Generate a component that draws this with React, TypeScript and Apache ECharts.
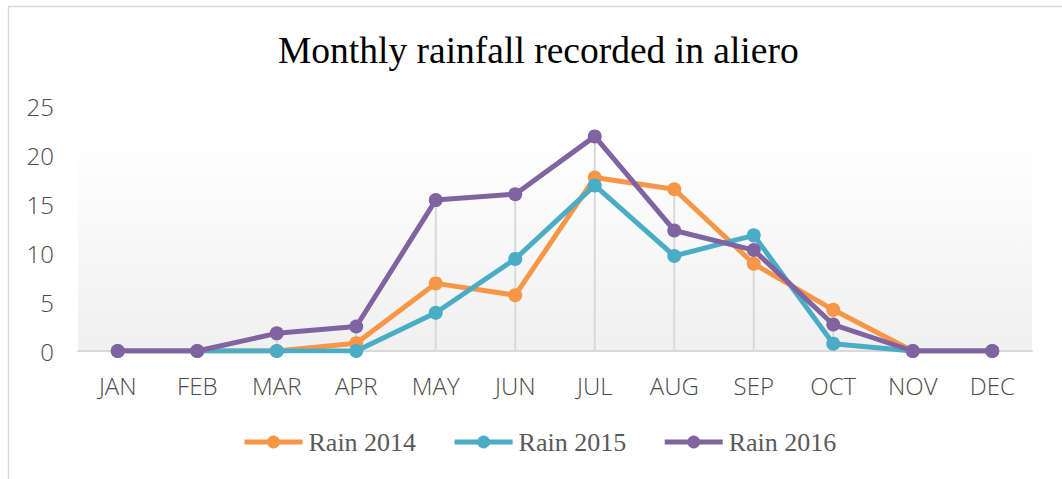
import React, { useEffect, useRef } from "react";
import * as echarts from "echarts";

const months = ["JAN", "FEB", "MAR", "APR", "MAY", "JUN", "JUL", "AUG", "SEP", "OCT", "NOV", "DEC"];
const rain2014 = [0, 0, 0, 0.8, 6.9, 5.7, 17.7, 16.5, 8.9, 4.2, 0, 0];
const rain2015 = [0, 0, 0, 0, 3.9, 9.4, 16.9, 9.7, 11.8, 0.75, 0, 0];
const rain2016 = [0, 0, 1.8, 2.5, 15.4, 16.0, 21.9, 12.3, 10.3, 2.7, 0, 0];
const seriesNames = ["Rain 2014", "Rain 2015", "Rain 2016"];
const colors = ["#F79646", "#4BACC6", "#8064A2"];
const titleText = "Monthly rainfall recorded in aliero";

export default function App() {
  const ref = useRef<HTMLDivElement>(null);
  useEffect(() => {
    document.body.style.margin = "0";
    if (!ref.current) return;
    const chart = echarts.init(ref.current, null, { renderer: "svg" });
    const dropLines = months.map((_, i) => Math.max(rain2014[i], rain2015[i], rain2016[i]));
    const all = [rain2014, rain2015, rain2016];
    const lineSeries = all.map((d, k) => ({
      name: seriesNames[k],
      type: "line",
      data: d,
      symbol: "circle",
      symbolSize: 14,
      lineStyle: { width: 5, color: colors[k] },
      itemStyle: { color: colors[k] },
      z: 3 + k,
    }));
    chart.setOption({
      animation: false,
      title: {
        text: titleText,
        left: 273,
        top: 26,
        textStyle: { fontFamily: "Liberation Serif", fontSize: 37.5, fontWeight: "normal", color: "#000" },
      },
      legend: {
        data: seriesNames,
        bottom: 19,
        left: 237,
        itemWidth: 58,
        itemHeight: 16,
        itemGap: 36,
        lineStyle: { width: 5 },
        textStyle: { fontFamily: "Liberation Serif", fontSize: 26, color: "#595959", padding: [0, 0, 0, 1] },
      },
      graphic: [
        {
          type: "rect",
          shape: { x: 8.5, y: 6.5, width: 1100, height: 500 },
          style: { fill: "none", stroke: "#d9d9d9", lineWidth: 1.5 },
          silent: true,
        },
      ],
      grid: {
        left: 78,
        right: 30,
        top: 106,
        bottom: 128,
        show: true,
        borderWidth: 0,
        backgroundColor: new echarts.graphic.LinearGradient(0, 0, 0, 1, [
          { offset: 0, color: "#ffffff" },
          { offset: 0.12, color: "#ffffff" },
          { offset: 1, color: "#f0f0f0" },
        ]),
      },
      xAxis: {
        type: "category",
        data: months,
        boundaryGap: true,
        axisLine: { lineStyle: { color: "#d9d9d9", width: 2 } },
        axisTick: { show: false },
        axisLabel: { fontFamily: "Open Sans", fontSize: 24, fontWeight: 300, color: "#4a4a4a", margin: 22 },
        splitLine: { show: false },
      },
      yAxis: {
        type: "value",
        min: 0,
        max: 25,
        interval: 5,
        axisLine: { show: false },
        axisTick: { show: false },
        splitLine: { show: false },
        axisLabel: { fontFamily: "Open Sans", fontSize: 24, fontWeight: 300, color: "#4a4a4a", margin: 24 },
      },
      series: [
        {
          name: "drop",
          type: "bar",
          data: dropLines,
          barWidth: 2,
          silent: true,
          itemStyle: { color: "#d9d9d9" },
          z: 1,
        },
        ...lineSeries,
      ],
    });
    return () => chart.dispose();
  }, []);
  return <div ref={ref} style={{ width: 1062, height: 479 }} />;
}
